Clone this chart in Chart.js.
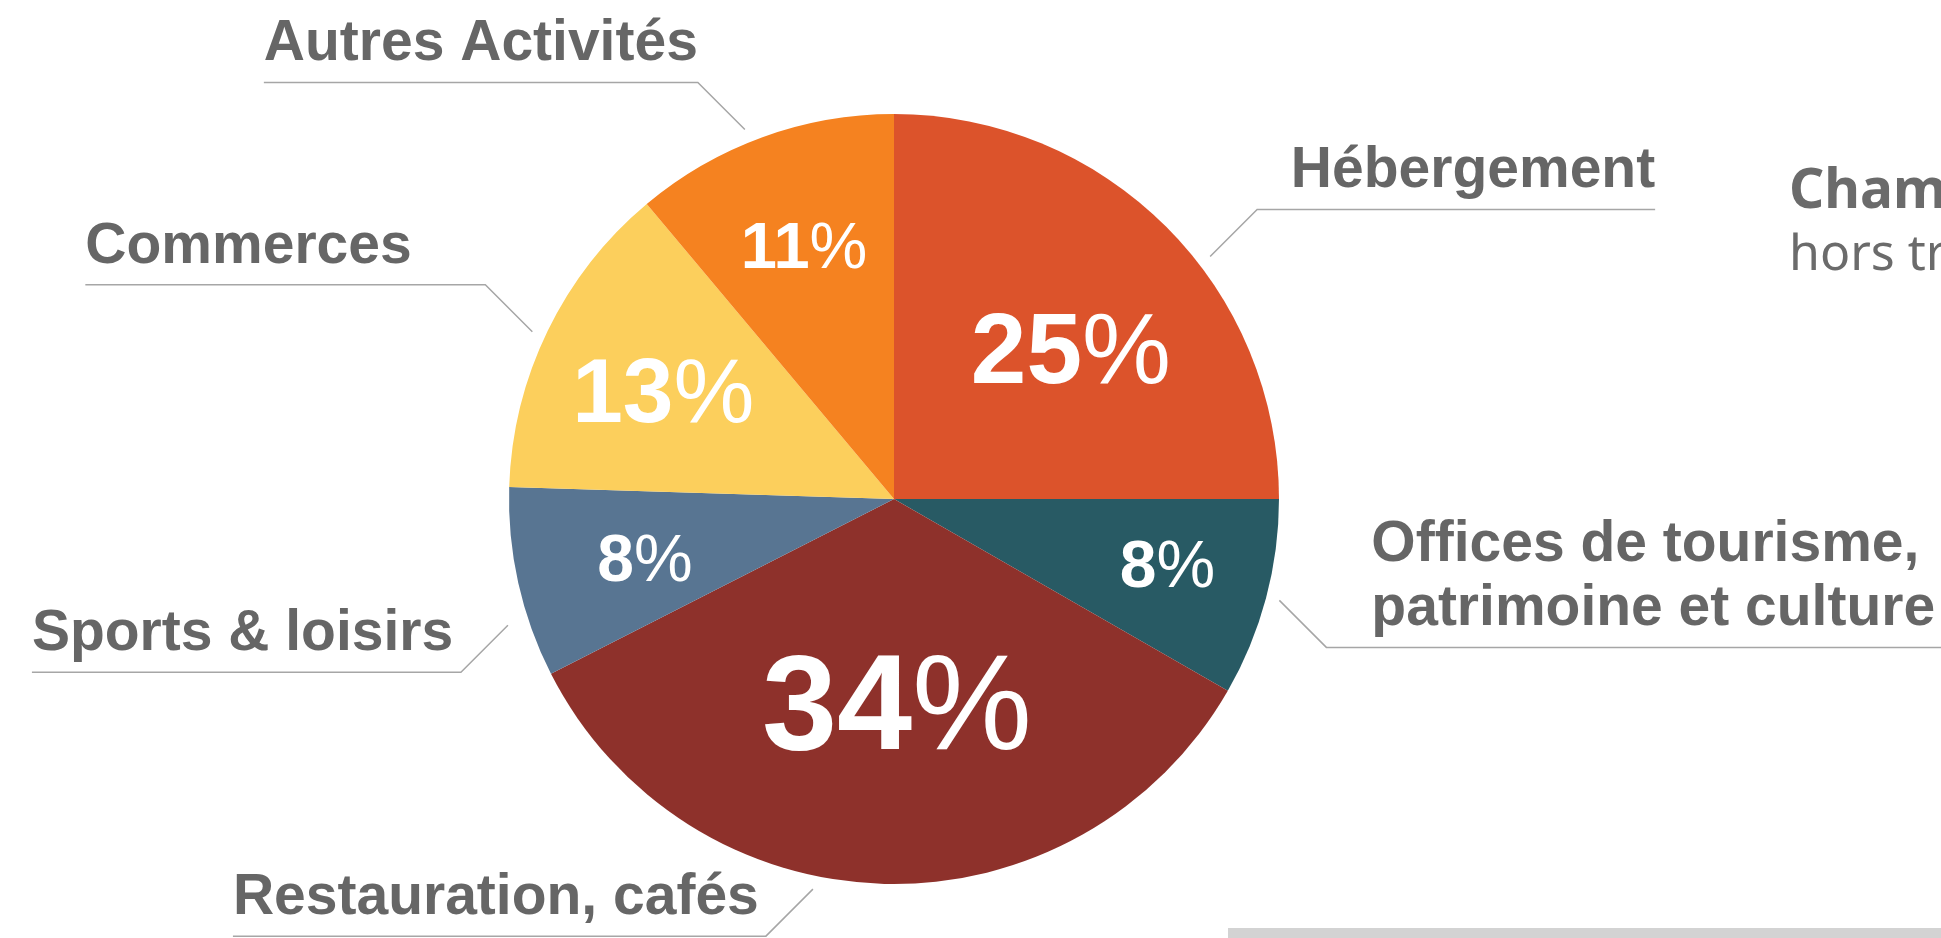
<!DOCTYPE html>
<html lang="fr">
<head>
<meta charset="utf-8">
<title>Répartition par secteur</title>
<script src="https://cdn.jsdelivr.net/npm/chart.js@4/dist/chart.umd.min.js"></script>
<style>
    body { margin: 0; background: #ffffff; overflow: hidden; }
    #wrap { position: relative; width: 1941px; height: 938px; }
    #bar { position: absolute; left: 1228px; top: 928px; width: 713px; height: 10px; background: #d3d3d3; }
</style>
</head>
<body>
<div id="wrap">
    <canvas id="secteurs" width="1941" height="938"></canvas>
    <div id="bar"></div>
</div>
<script>
// donnees (sens horaire depuis midi)
const categories = ['Hébergement', ['Offices de tourisme,', 'patrimoine et culture'], 'Restauration, cafés', 'Sports & loisirs', 'Commerces', 'Autres Activités'];
const values = [25, 8.3, 34.2, 8, 13.4, 11.1];
const colors = ['#dc532b', '#285a64', '#8e312b', '#587592', '#fccf5c', '#f58220'];

// style des pourcentages dans les parts
const pctFontSize = [100, 66, 135, 66, 91, 65];
const pctRadius = [0.606, 0.73, 0.525, 0.664, 0.663, 0.70];
const pctAngleShift = [4.3, -1.6, -2.3, -0.5, -0.6, 0.5];

// style des etiquettes exterieures
const calloutAngleShift = [7.5, -0.2, 10.3, -5.5, -1.1, -2];
const calloutRadius = [1.035, 1.035, 1.035, 1.055, 1.035, 1.035];
const calloutDirX = [1, 1, -1, -1, -1, -1];
const calloutDirY = [-1, 1, 1, 1, -1, -1];
const calloutLength = [398, 700, 533, 429, 400, 434];
const calloutTextAt = ['end', 'start', 'end', 'end', 'end', 'end'];

const textGrey = '#666666';
const lineGrey = '#a6a6a6';
const fontName = '"Liberation Sans", Arial, sans-serif';

const labelsPlugin = {
    id: 'labelsPlugin',
    afterDraw: function (chart) {
        let ctx = chart.ctx;
        let arcs = chart.getDatasetMeta(0).data;
        for (let i = 0; i < arcs.length; i++) {
            let arc = arcs[i];
            let p = arc.getProps(['x', 'y', 'startAngle', 'endAngle', 'outerRadius'], true);
            let mid = (p.startAngle + p.endAngle) / 2;

            // pourcentage : chiffres en gras, % en normal
            let a = mid + pctAngleShift[i] * Math.PI / 180;
            let cx = p.x + Math.cos(a) * p.outerRadius * pctRadius[i];
            let cy = p.y + Math.sin(a) * p.outerRadius * pctRadius[i];
            let num = String(Math.round(values[i]));
            let size = pctFontSize[i];
            ctx.save();
            ctx.fillStyle = '#ffffff';
            ctx.textBaseline = 'alphabetic';
            ctx.textAlign = 'left';
            ctx.font = 'bold ' + size + 'px ' + fontName;
            let wNum = ctx.measureText(num).width;
            ctx.font = size + 'px ' + fontName;
            let wPct = ctx.measureText('%').width;
            let x0 = cx - (wNum + wPct) / 2;
            let base = cy + size * 0.716 / 2;
            ctx.font = 'bold ' + size + 'px ' + fontName;
            ctx.fillText(num, x0, base);
            ctx.font = size + 'px ' + fontName;
            ctx.fillText('%', x0 + wNum, base);
            ctx.restore();

            // trait de rappel
            let b = mid + calloutAngleShift[i] * Math.PI / 180;
            let ax = p.x + Math.cos(b) * p.outerRadius * calloutRadius[i];
            let ay = p.y + Math.sin(b) * p.outerRadius * calloutRadius[i];
            let ex = ax + calloutDirX[i] * 47;
            let ey = ay + calloutDirY[i] * 47;
            let fx = ex + calloutDirX[i] * calloutLength[i];
            ctx.save();
            ctx.strokeStyle = lineGrey;
            ctx.lineWidth = 1.5;
            ctx.beginPath();
            ctx.moveTo(ax, ay);
            ctx.lineTo(ex, ey);
            ctx.lineTo(fx, ey);
            ctx.stroke();

            // texte de l'etiquette
            let lines = Array.isArray(categories[i]) ? categories[i] : [categories[i]];
            ctx.fillStyle = textGrey;
            ctx.font = 'bold 57px ' + fontName;
            ctx.textBaseline = 'alphabetic';
            let tx;
            if (calloutTextAt[i] === 'end') {
                ctx.textAlign = calloutDirX[i] < 0 ? 'left' : 'right';
                tx = fx;
            } else {
                ctx.textAlign = calloutDirX[i] < 0 ? 'right' : 'left';
                tx = ex + calloutDirX[i] * 45;
            }
            for (let k = 0; k < lines.length; k++) {
                let ty = ey - 22 - (lines.length - 1 - k) * 64;
                ctx.fillText(lines[k], tx, ty);
            }
            ctx.restore();
        }

        // note a droite (coupee par le bord)
        ctx.save();
        ctx.fillStyle = '#6b6b6b';
        ctx.textAlign = 'left';
        ctx.textBaseline = 'alphabetic';
        ctx.font = 'bold 55px "Noto Sans", sans-serif';
        ctx.fillText('Champ :', 1789, 208);
        ctx.font = '50px "Noto Sans", sans-serif';
        ctx.fillText('hors transport', 1789, 270);
        ctx.restore();
    }
};

let ctx = document.getElementById('secteurs');
let chart = new Chart(ctx, {
    type: 'pie',
    data: {
        labels: categories,
        datasets: [{
            data: values,
            backgroundColor: colors,
            borderWidth: 0,
            hoverOffset: 0
        }]
    },
    options: {
        responsive: false,
        animation: false,
        layout: {
            padding: { left: 509, right: 662, top: 114, bottom: 54 }
        },
        plugins: {
            legend: { display: false },
            tooltip: { enabled: false }
        }
    },
    plugins: [labelsPlugin]
});
</script>
</body>
</html>
